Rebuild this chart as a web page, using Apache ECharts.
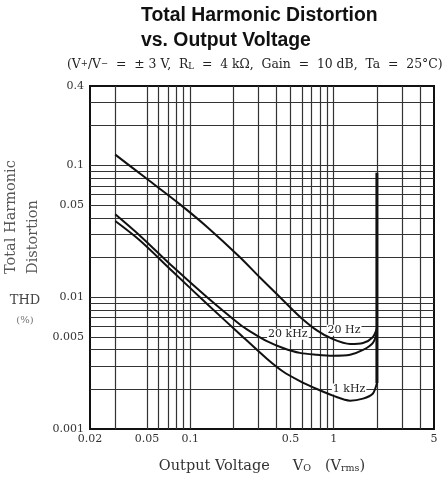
<!DOCTYPE html>
<html><head><meta charset="utf-8">
<script src="https://cdn.jsdelivr.net/npm/echarts@6/dist/echarts.min.js"></script>
<style>html,body{margin:0;padding:0;background:#fff}#c{width:443px;height:479px}</style>
</head><body><div id="c"></div>
<script>
// Tick labels
const xTickLabels = [0.02, 0.05, 0.1, 0.5, 1, 5];
const yTickLabels = [0.001, 0.005, 0.01, 0.05, 0.1, 0.4];
// Grid line values
const xGridValues = [0.03, 0.05, 0.06, 0.07, 0.08, 0.09, 0.1, 0.2, 0.3, 0.4, 0.5, 0.6, 0.7, 0.8, 0.9, 1, 2, 3, 4];
const yGridValues = [0.002, 0.003, 0.004, 0.005, 0.006, 0.007, 0.008, 0.009, 0.01,
  0.02, 0.03, 0.04, 0.05, 0.06, 0.07, 0.08, 0.09, 0.1, 0.2, 0.3];
// Series: [Vo (Vrms), THD (%)]
const thd20Hz = [[0.03, 0.1206], [0.048, 0.0815], [0.0848, 0.0506], [0.131, 0.0341], [0.222, 0.0201],
  [0.306, 0.0141], [0.436, 0.00966], [0.581, 0.00711], [0.763, 0.0056], [0.987, 0.0048],
  [1.3, 0.00441], [1.6, 0.00449], [1.87, 0.00497], [2, 0.0058]];
const thd20kHz = [[0.03, 0.0426], [0.0446, 0.0293], [0.0757, 0.017], [0.131, 0.01], [0.222, 0.00621],
  [0.261, 0.00551], [0.342, 0.00464], [0.443, 0.00412], [0.581, 0.00378], [0.763, 0.00366],
  [0.987, 0.0036], [1.3, 0.00366], [1.6, 0.00398], [1.87, 0.00449], [2, 0.00533]];
const thd1kHz = [[0.03, 0.0378], [0.0446, 0.0269], [0.0757, 0.0156], [0.131, 0.00888], [0.222, 0.00524],
  [0.342, 0.00341], [0.443, 0.00273], [0.581, 0.00231], [0.763, 0.00201], [0.987, 0.00179],
  [1.3, 0.00164], [1.6, 0.0017], [1.87, 0.00185], [2, 0.00223]];
const clipLine = [[2, 0.00223], [2, 0.088]];
// Curve label anchors
const curveLabels = [
  { name: '20 Hz', coord: [1.18, 0.0056] },
  { name: '20 kHz', coord: [0.479, 0.00524] },
  { name: '1 kHz', coord: [1.28, 0.00201] }
];

const serif = 'DejaVu Serif';
const chart = echarts.init(document.getElementById('c'), null, { renderer: 'canvas' });

function fmt(v) { return String(+v.toPrecision(3)); }

const curveStyle = { color: '#111', width: 2 };
function curve(name, data) {
  return {
    name: name, type: 'line', data: data, showSymbol: false, symbol: 'none',
    smooth: 0.3, lineStyle: curveStyle, silent: true, z: 5
  };
}

chart.setOption({
  animation: false,
  backgroundColor: '#fff',
  title: [{
    text: 'Total Harmonic Distortion\nvs. Output Voltage',
    left: 141, top: 3, padding: 0,
    textStyle: { fontFamily: 'Liberation Sans', fontWeight: 'bold', fontSize: 19.4, lineHeight: 25, color: '#111' }
  }, {
    text: '(V{sup|+}/V{sup|−}  =  ± 3 V,  R{sub|L}  =  4 kΩ,  Gain  =  10 dB,  Ta  =  25°C)',
    left: 67, top: 59, padding: 0,
    textStyle: {
      fontFamily: serif, fontSize: 12.4, fontWeight: 'normal', color: '#222',
      rich: {
        sup: { fontFamily: serif, fontSize: 8.5, verticalAlign: 'top', color: '#222' },
        sub: { fontFamily: serif, fontSize: 8.5, verticalAlign: 'bottom', color: '#222' }
      }
    }
  }],
  grid: { left: 90, right: 9, top: 86, bottom: 47, show: true, borderColor: '#111', borderWidth: 2, backgroundColor: 'transparent' },
  xAxis: {
    type: 'log', logBase: 10, min: 0.02, max: 5,
    axisLine: { show: false },
    axisTick: { show: false, customValues: xGridValues },
    axisLabel: { customValues: xTickLabels, formatter: fmt, fontFamily: serif, fontSize: 11, color: '#333', margin: 5 },
    splitLine: { show: true, lineStyle: { color: '#333', width: 1.2 } },
    name: 'Output Voltage     V{sub|O}   (V{sub|rms})',
    nameLocation: 'middle', nameGap: 30,
    nameTextStyle: {
      fontFamily: serif, fontSize: 14.5, color: '#333',
      rich: { sub: { fontFamily: serif, fontSize: 9.5, verticalAlign: 'bottom', color: '#333' } }
    }
  },
  yAxis: {
    type: 'log', logBase: 10, min: 0.001, max: 0.4,
    axisLine: { show: false },
    axisTick: { show: false, customValues: yGridValues },
    axisLabel: { customValues: yTickLabels, formatter: fmt, fontFamily: serif, fontSize: 11, color: '#333', margin: 6 },
    splitLine: { show: true, lineStyle: { color: '#333', width: 1.2 } }
  },
  graphic: [
    { type: 'text', x: 11, y: 274, rotation: Math.PI / 2,
      style: { text: 'Total Harmonic', fontFamily: serif, fontSize: 14.5, fill: '#555', align: 'left', verticalAlign: 'middle' } },
    { type: 'text', x: 33, y: 274, rotation: Math.PI / 2,
      style: { text: 'Distortion', fontFamily: serif, fontSize: 14.5, fill: '#555', align: 'left', verticalAlign: 'middle' } },
    { type: 'text', x: 25, y: 301,
      style: { text: 'THD', fontFamily: serif, fontSize: 13, fill: '#444', align: 'center', verticalAlign: 'middle' } },
    { type: 'text', x: 25, y: 320,
      style: { text: '(%)', fontFamily: serif, fontSize: 10, fill: '#777', align: 'center', verticalAlign: 'middle' } }
  ],
  series: [
    curve('20 Hz', thd20Hz),
    curve('20 kHz', thd20kHz),
    curve('1 kHz', thd1kHz),
    {
      name: 'clip', type: 'line', data: clipLine, showSymbol: false, symbol: 'none',
      lineStyle: { color: '#111', width: 3 }, silent: true, z: 5,
      markPoint: {
        symbol: 'circle', symbolSize: 0, silent: true,
        label: { show: true, position: 'inside', formatter: '{b}', fontFamily: serif, fontSize: 11, color: '#222',
          backgroundColor: '#fff', padding: [0, 1] },
        data: curveLabels.map(function (d) { return { name: d.name, coord: d.coord }; })
      }
    }
  ]
});
</script>
</body></html>
